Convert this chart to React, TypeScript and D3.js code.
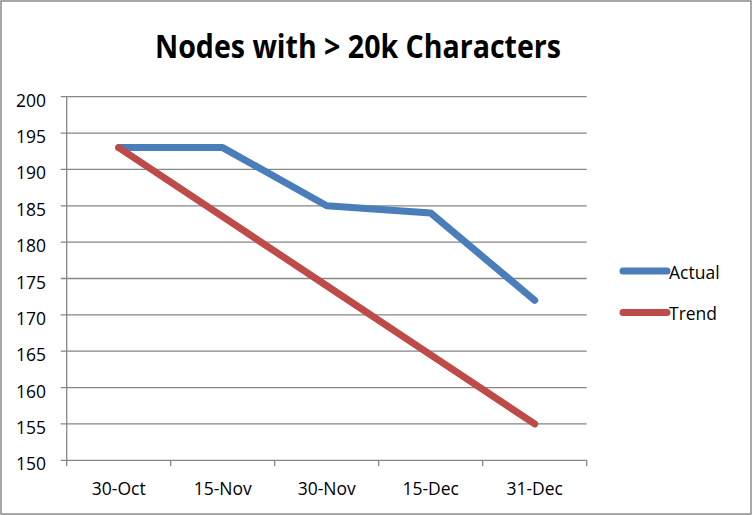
import React from "react";
import * as d3 from "d3";

const categories = ["30-Oct", "15-Nov", "30-Nov", "15-Dec", "31-Dec"];
const actualValues = [193, 193, 185, 184, 172];
const trendValues = [193, 183.5, 174, 164.5, 155];
const yTicks = [150, 155, 160, 165, 170, 175, 180, 185, 190, 195, 200];
const seriesNames = ["Actual", "Trend"];

const W = 752;
const H = 515;
const FONT = "'Open Sans', 'Noto Sans', sans-serif";

export default function App() {
  const left = 66.7, right = 586.7, top = 96.7, bottom = 460.3;
  const x = d3.scaleBand<string>().domain(categories).range([left, right]);
  const y = d3.scaleLinear().domain([150, 200]).range([bottom, top]);
  const line = d3
    .line<number>()
    .x((_, i) => (x(categories[i]) as number) + x.bandwidth() / 2)
    .y((d) => y(d));
  const series = [
    { name: seriesNames[0], values: actualValues, color: "#4A7EBB" },
    { name: seriesNames[1], values: trendValues, color: "#BE4B48" },
  ];
  const tickXs = [...categories.map((c) => x(c) as number), right];
  return (
    <svg
      width={W}
      height={H}
      style={{ position: "absolute", left: 0, top: 0, background: "#fff" }}
      fontFamily={FONT}
    >
      <rect x={1} y={1} width={W - 2} height={H - 2} fill="#fff" stroke="#8c8c8c" strokeWidth={1.5} />
      <text x={358} y={58} textAnchor="middle" fontSize={33} fontWeight="bold" fill="#000" textLength={406} lengthAdjust="spacingAndGlyphs">
        Nodes with &gt; 20k Characters
      </text>
      {yTicks.map((t) => (
        <g key={t}>
          <line x1={left - 6} x2={right} y1={y(t)} y2={y(t)} stroke="#868686" strokeWidth={1.3} />
          <text x={46} y={y(t) + 10} textAnchor="end" fontSize={17.5} fill="#000">
            {t}
          </text>
        </g>
      ))}
      <line x1={left} x2={left} y1={top} y2={bottom} stroke="#868686" strokeWidth={1.3} />
      {tickXs.map((tx, i) => (
        <line key={i} x1={tx} x2={tx} y1={bottom} y2={bottom + 6} stroke="#868686" strokeWidth={1.3} />
      ))}
      {categories.map((c) => (
        <text key={c} x={(x(c) as number) + x.bandwidth() / 2} y={495} textAnchor="middle" fontSize={17.5} fill="#000">
          {c}
        </text>
      ))}
      {series.map((s) => (
        <path
          key={s.name}
          d={line(s.values) || ""}
          fill="none"
          stroke={s.color}
          strokeWidth={7}
          strokeLinecap="round"
          strokeLinejoin="round"
        />
      ))}
      {series.map((s, i) => (
        <g key={s.name}>
          <line x1={623} x2={667} y1={271 + i * 41.5} y2={271 + i * 41.5} stroke={s.color} strokeWidth={7} strokeLinecap="round" />
          <text x={669} y={278.5 + i * 41.5} fontSize={17.5} fill="#000">
            {s.name}
          </text>
        </g>
      ))}
    </svg>
  );
}
